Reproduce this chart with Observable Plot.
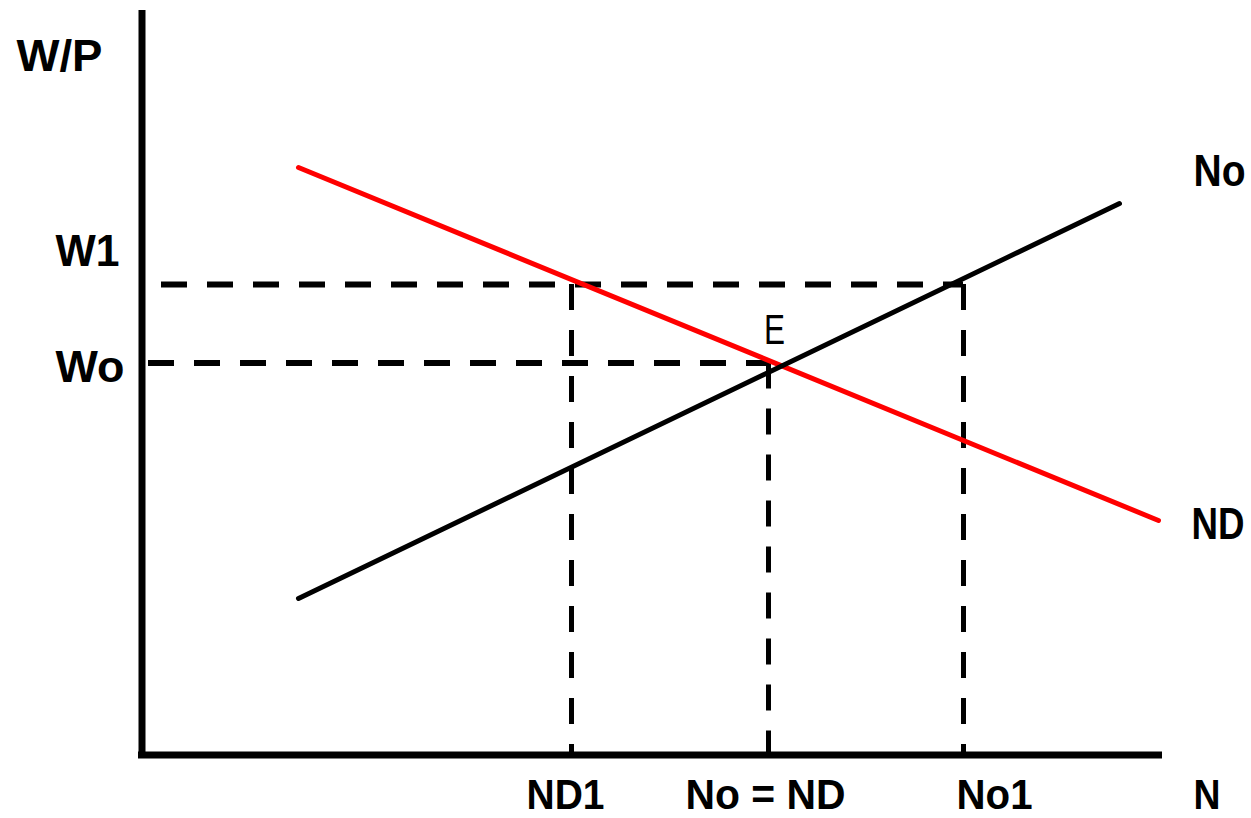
<!DOCTYPE html>
<html><head><meta charset="utf-8">
<script src="https://cdn.jsdelivr.net/npm/d3@7"></script>
<script src="https://cdn.jsdelivr.net/npm/@observablehq/plot@0.6"></script>
<style>body{margin:0;background:#fff;overflow:hidden}</style>
</head><body><div id="chart"></div>
<script>
// ---- data (abstract units: N horizontally, W/P vertically) ----
const axisN = [-0.35, 102.05];          // extent of the N axis
const axisW = [0, 74.45];               // extent of the W/P axis
const ndCurve = [{n: 15.65, w: 58.75}, {n: 101.65, w: 23.45}];  // labour demand (red)
const noCurve = [{n: 15.65, w: 15.65}, {n: 97.75, w: 55.15}];   // labour supply (black)
const wageLevels = [{label: "W1", w: 47.05}, {label: "Wo", w: 39.2}];
const employment = [{label: "ND1", n: 42.95}, {label: "No = ND", n: 62.65}, {label: "No1", n: 82.15}];
const axisTitles = {x: "N", y: "W/P"};
const curveLabels = {supply: "No", demand: "ND"};
const pointLabel = "E";

const W1 = wageLevels[0].w, Wo = wageLevels[1].w;
const ND1 = employment[0].n, NoND = employment[1].n, No1 = employment[2].n;

const font = "Liberation Sans, Arial, sans-serif";
const txt = {fontFamily: font, fontWeight: "bold", fontSize: 44, lineAnchor: "bottom", textAnchor: "middle", fill: "black"};
const bottomTxt = {...txt, fontSize: 43};

const chart = Plot.plot({
  width: 1251, height: 818,
  margin: 0,
  x: {domain: [0, 100], range: [141.5, 1141.5], axis: null},
  y: {domain: [0, 100], range: [754.5, -245.5], axis: null},
  style: {background: "white", overflow: "visible"},
  marks: [
    // dashed guide lines
    Plot.ruleY([W1], {x1: 0, x2: No1, stroke: "black", strokeWidth: 6, strokeDasharray: "26,20", strokeDashoffset: 26.5}),
    Plot.ruleY([Wo], {x1: 0, x2: NoND, stroke: "black", strokeWidth: 6, strokeDasharray: "26,20", strokeDashoffset: 39.5}),
    Plot.ruleX([ND1, No1], {y1: W1, y2: 0, stroke: "black", strokeWidth: 5, strokeDasharray: "26,20"}),
    Plot.ruleX([NoND], {y1: Wo, y2: 0, stroke: "black", strokeWidth: 5, strokeDasharray: "26,20"}),
    // curves
    Plot.line(ndCurve, {x: "n", y: "w", stroke: "#ff0000", strokeWidth: 5}),
    Plot.line(noCurve, {x: "n", y: "w", stroke: "black", strokeWidth: 5}),
    // axes
    Plot.ruleX([0], {y1: axisW[0], y2: axisW[1], stroke: "black", strokeWidth: 7}),
    Plot.ruleY([0], {x1: axisN[0], x2: axisN[1], stroke: "black", strokeWidth: 7}),
    // labels
    Plot.text([axisTitles.y], {x: 0, y: axisW[1], text: d => d, dx: -82.5, dy: 60, ...txt}),
    Plot.text([wageLevels[0]], {x: 0, y: "w", text: "label", dx: -54.5, dy: -19, ...txt}),
    Plot.text([wageLevels[1]], {x: 0, y: "w", text: "label", dx: -52, dy: 18.5, ...txt}),
    Plot.text([curveLabels.supply], {x: noCurve[1].n, y: noCurve[1].w, text: d => d, dx: 126, dy: -18, ...txt, textAnchor: "end"}),
    Plot.text([curveLabels.demand], {x: ndCurve[1].n, y: ndCurve[1].w, text: d => d, dx: 86, dy: 18, ...txt, textAnchor: "end"}),
    Plot.text([pointLabel], {x: NoND, y: Wo, text: d => d, dx: 6, dy: -19.5, ...txt, fontWeight: "normal", fontSize: 43}),
    Plot.text([employment[0]], {x: "n", y: 0, text: "label", dx: -6, dy: 54, ...bottomTxt}),
    Plot.text([employment[1]], {x: "n", y: 0, text: "label", dx: -3, dy: 54, ...bottomTxt}),
    Plot.text([employment[2]], {x: "n", y: 0, text: "label", dx: 31, dy: 54, ...bottomTxt}),
    Plot.text([axisTitles.x], {x: axisN[1], y: 0, text: d => d, dx: 44.5, dy: 54, ...bottomTxt})
  ]
});
document.getElementById("chart").appendChild(chart);

// condense glyphs to match the narrow bitmap lettering
const widths = {"W/P": 86, "W1": 64, "Wo": 69, "No": 52, "ND": 53, "E": 21, "ND1": 78, "No = ND": 160, "No1": 76, "N": 27};
d3.select(chart).selectAll("text").each(function() {
  const t = this.textContent;
  if (widths[t]) {
    this.setAttribute("textLength", widths[t]);
    this.setAttribute("lengthAdjust", "spacingAndGlyphs");
  }
});
</script>
</body></html>
